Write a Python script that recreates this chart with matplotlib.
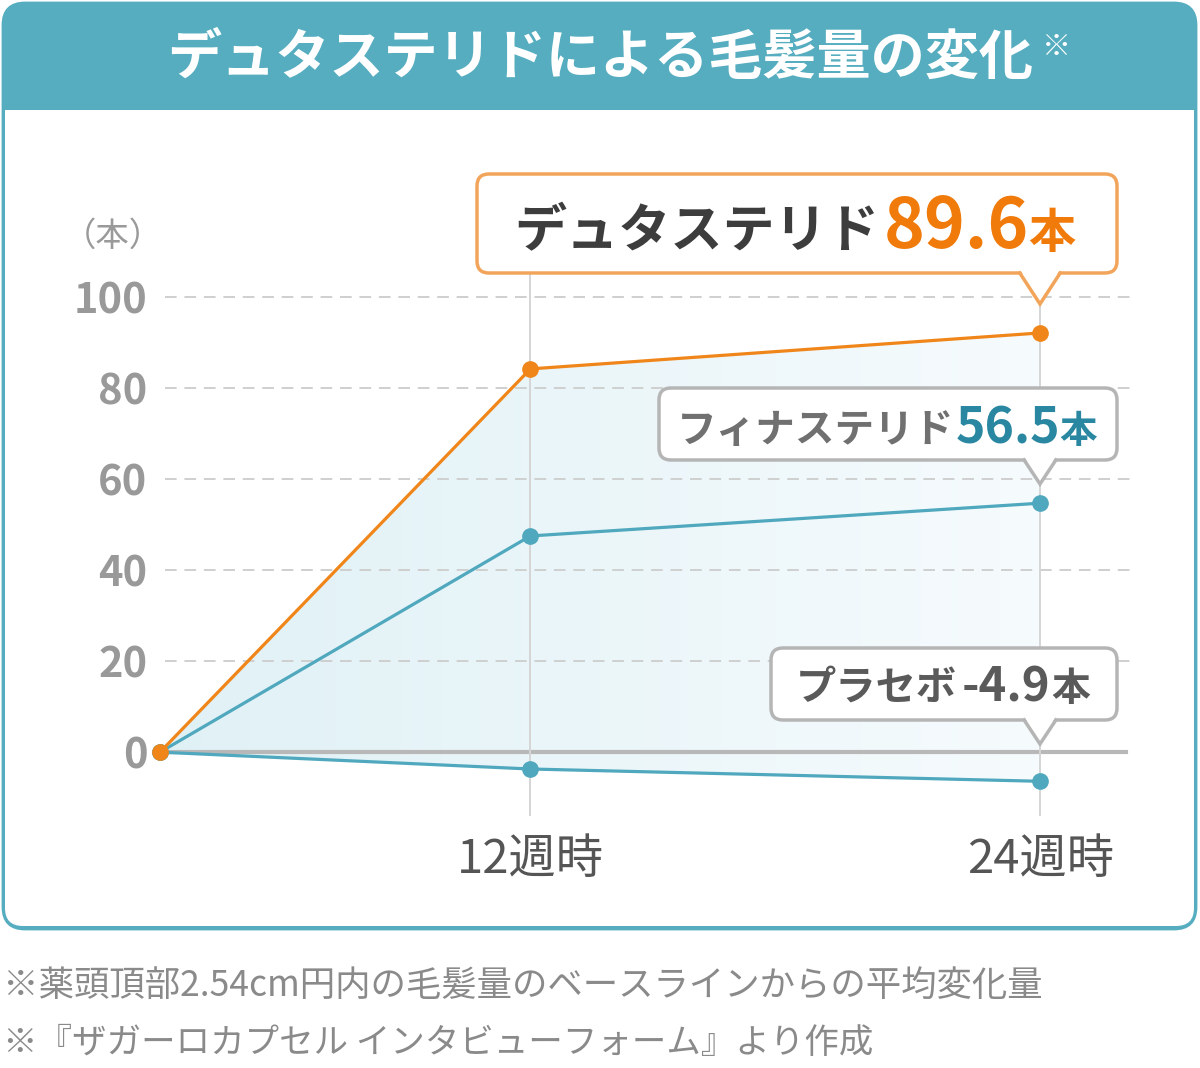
import numpy as np
import matplotlib.pyplot as plt
from matplotlib.patches import FancyBboxPatch, Rectangle, Polygon
from matplotlib.lines import Line2D
from matplotlib.colors import LinearSegmentedColormap

plt.rcParams['font.family'] = ['Noto Sans CJK JP', 'DejaVu Sans']

# data
x_pos = [0, 10.1, 24]          # plotting positions of 0 / 12 / 24 weeks
x_labels = ['', '12週時', '24週時']
dutasteride = [0, 84.2, 92.1]
finasteride = [0, 47.5, 54.7]
placebo = [0, -3.7, -6.4]
y_ticks = [0, 20, 40, 60, 80, 100]

title = 'デュタステリドによる毛髪量の変化'
notes = ['※薬頭頂部2.54cm円内の毛髪量のベースラインからの平均変化量',
         '※『ザガーロカプセル インタビューフォーム』より作成']

teal = '#56adc0'
orange = '#f0861a'
line_teal = '#4fa8bd'

W, H = 1200, 1068
fig = plt.figure(figsize=(W / 100, H / 100), dpi=100)

# background layer in pixel coords
bg = fig.add_axes([0, 0, 1, 1], zorder=0)
bg.set_xlim(0, W)
bg.set_ylim(H, 0)
bg.axis('off')
bg.add_patch(FancyBboxPatch((3, 3), 1193, 926, boxstyle='round,pad=0,rounding_size=22',
                            fc=teal, ec=teal, lw=2))
bg.add_patch(FancyBboxPatch((5, 110), 1189, 816, boxstyle='round,pad=0,rounding_size=18',
                            fc='white', ec='none'))
bg.add_patch(Rectangle((5, 110), 1189, 60, fc='white', ec='none'))
bg.text(600, 58, title, color='white', fontsize=39, fontweight='bold', ha='center', va='center')
bg.text(1056, 47, '※', color='white', fontsize=21, fontweight='bold', ha='center', va='center')
bg.text(3, 986, notes[0], color='#8a8a8a', fontsize=25.5, ha='left', va='center')
bg.text(3, 1043, notes[1], color='#8a8a8a', fontsize=24.8, ha='left', va='center')
bg.text(113, 236, '（本）', color='#9a9a9a', fontsize=24, ha='center', va='center')

# main chart: x=0 sits at px 160, x=24 at px 1040
ax = fig.add_axes([160 / W, (H - 830) / H, 970 / W, 650 / H], zorder=2)
ax.patch.set_alpha(0)
ax.set_xlim(0, 26.45)
ax.set_ylim(-17.1, 125.7)
for s in ax.spines.values():
    s.set_visible(False)

x0 = 0.14
for t in y_ticks[1:]:
    ax.plot([x0, 26.45], [t, t], color='#cfcfcf', lw=1.4, ls=(0, (6, 4)), zorder=1)
ax.plot([x0, 26.35], [0, 0], color='#b8b8b8', lw=3, zorder=1)
for xp in x_pos[1:]:
    ax.plot([xp, xp], [-13.8, 110], color='#d5d5d5', lw=1.4, zorder=1)

# gradient fill between the top and bottom series
poly = ax.fill_between(x_pos, dutasteride, placebo, color='none', lw=0)
grad = np.linspace(0, 1, 256).reshape(1, -1)
cmap = LinearSegmentedColormap.from_list('g', ['#e0f1f6', '#f6fbfd'])
im = ax.imshow(grad, cmap=cmap, aspect='auto', extent=[0, 24, -10, 95], zorder=0.5)
im.set_clip_path(poly.get_paths()[0], transform=ax.transData)

ax.plot(x_pos, placebo, color=line_teal, lw=2.3, marker='o', ms=11, zorder=3, clip_on=False)
ax.plot(x_pos, finasteride, color=line_teal, lw=2.3, marker='o', ms=11, zorder=3, clip_on=False)
ax.plot(x_pos, dutasteride, color=orange, lw=2.3, marker='o', ms=11, zorder=4, clip_on=False)

ax.set_yticks(y_ticks)
ax.set_yticklabels([str(t) for t in y_ticks], fontsize=30, color='#999999', fontweight='bold')
ax.set_xticks(x_pos[1:])
ax.set_xticklabels(x_labels[1:], fontsize=34, color='#555555')
ax.tick_params(axis='both', length=0)
ax.tick_params(axis='y', pad=9)
ax.tick_params(axis='x', pad=4)

# callouts in pixel coords
fg = fig.add_axes([0, 0, 1, 1], zorder=5)
fg.set_xlim(0, W)
fg.set_ylim(H, 0)
fg.axis('off')
fg.patch.set_alpha(0)


def bubble(x1, y1, x2, y2, tip_x, tip_y, ec):
    fg.add_patch(FancyBboxPatch((x1, y1), x2 - x1, y2 - y1,
                                boxstyle='round,pad=0,rounding_size=12',
                                fc='white', ec=ec, lw=2.5, zorder=5))
    half = (tip_y - y2) * 0.62
    fg.add_patch(Polygon([(tip_x - half, y2 - 2), (tip_x + half, y2 - 2), (tip_x, tip_y)],
                         closed=True, fc='white', ec='none', zorder=6))
    fg.add_line(Line2D([tip_x - half - 1, tip_x, tip_x + half + 1], [y2, tip_y, y2],
                       color=ec, lw=2.5, zorder=7, solid_joinstyle='miter'))


bubble(477, 174, 1117, 273, 1040, 304, '#f2a55a')
bubble(659, 388, 1117, 460, 1040, 484, '#b5b5b5')
bubble(771, 648, 1117, 720, 1040, 744, '#b5b5b5')

fg.text(514, 247, 'デュタステリド', fontsize=37.5, fontweight='bold', color='#3d3d3d', zorder=8)
fg.text(884, 248, '89.6', fontsize=50, fontweight='bold', color='#f07a0a', zorder=8)
fg.text(1028, 248, '本', fontsize=34, fontweight='bold', color='#f07a0a', zorder=8)

fg.text(677, 442, 'フィナステリド', fontsize=28.5, fontweight='bold', color='#707070', zorder=8)
fg.text(956, 443, '56.5', fontsize=36, fontweight='bold', color='#2a87a1', zorder=8)
fg.text(1059, 443, '本', fontsize=27, fontweight='bold', color='#2a87a1', zorder=8)

fg.text(796, 700, 'プラセボ', fontsize=29, fontweight='bold', color='#5a5a5a', zorder=8)
fg.text(962, 701, '-4.9', fontsize=34, fontweight='bold', color='#5a5a5a', zorder=8)
fg.text(1051, 701, '本', fontsize=28, fontweight='bold', color='#5a5a5a', zorder=8)

fig.savefig('out.png', dpi=100)
